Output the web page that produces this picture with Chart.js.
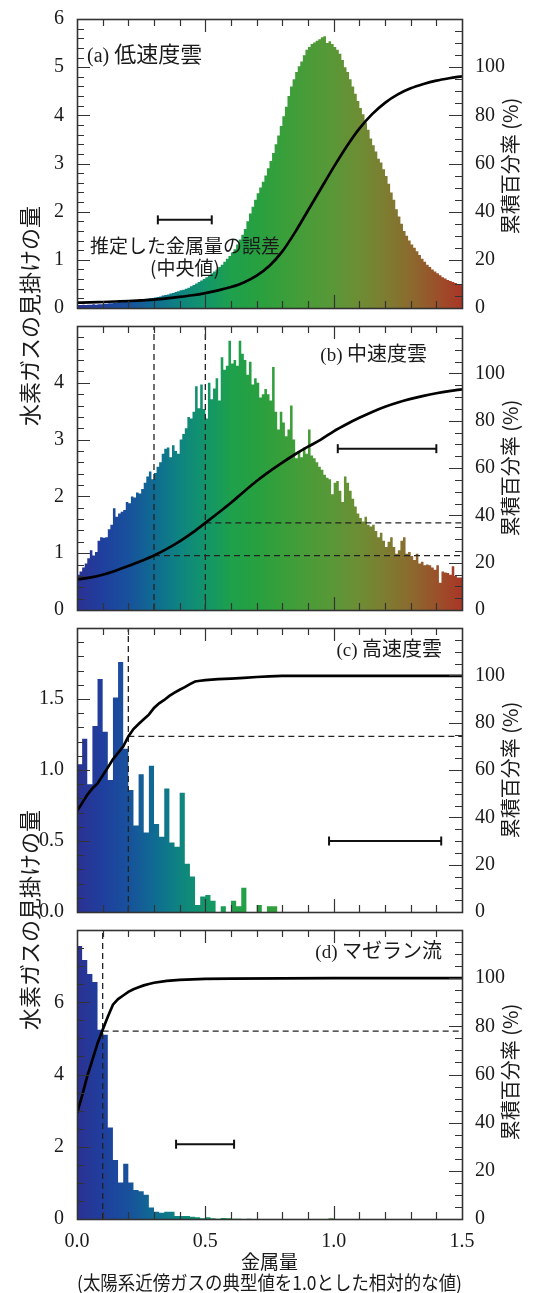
<!DOCTYPE html>
<html><head><meta charset="utf-8">
<script src="https://cdn.jsdelivr.net/npm/chart.js@4.4.1/dist/chart.umd.min.js"></script>
<style>
html,body{margin:0;padding:0;background:#fff;}
body{width:547px;height:1293px;position:relative;overflow:hidden;font-family:'Noto Sans CJK JP','Noto Sans',sans-serif;color:#1a1a1a;}
canvas{position:absolute;left:0;}
.lbl{position:absolute;white-space:nowrap;font-size:20px;line-height:24px;}
.big{font-size:22px;}
.ser{font-family:'Liberation Serif','DejaVu Serif',serif;font-size:19px;}
.note{position:absolute;left:0;width:370px;text-align:center;font-size:19px;line-height:22px;white-space:nowrap;}
.vt{position:absolute;white-space:nowrap;transform:translate(-50%,-50%) rotate(-90deg);}
.vl{font-size:22px;line-height:26px;}
.vr{font-size:20px;line-height:24px;}
</style></head>
<body>
<canvas id="ca" width="547" height="325" style="top:0px"></canvas>
<canvas id="cb" width="547" height="318" style="top:309px"></canvas>
<canvas id="cc" width="547" height="318" style="top:611px"></canvas>
<canvas id="cd" width="547" height="380" style="top:913px"></canvas>

<div class="lbl big" style="left:87px;top:40px"><span class="ser" style="font-size:20px">(a)</span> 低速度雲</div>
<div class="lbl" style="right:120px;top:341px"><span class="ser">(b)</span> 中速度雲</div>
<div class="lbl" style="right:105px;top:636px"><span class="ser">(c)</span> 高速度雲</div>
<div class="lbl" style="right:105px;top:938px"><span class="ser">(d)</span> マゼラン流</div>
<div class="note" style="top:234px">推定した金属量の誤差<br>(中央値)</div>

<div class="vt vl" style="left:28px;top:316px">水素ガスの見掛けの量</div>
<div class="vt vl" style="left:28px;top:920px">水素ガスの見掛けの量</div>
<div class="vt vr" style="left:510px;top:166px">累積百分率 (%)</div>
<div class="vt vr" style="left:510px;top:468px">累積百分率 (%)</div>
<div class="vt vr" style="left:510px;top:770px">累積百分率 (%)</div>
<div class="vt vr" style="left:510px;top:1072px">累積百分率 (%)</div>

<script>
// ---------------- DATA ----------------
const X_MIN = 0, X_MAX = 1.5;
const X_TICKS = [0.0, 0.5, 1.0, 1.5];

// (a) low-velocity clouds, bin width 0.01
const BIN_A = 0.01;
const HIST_A = [
0.05,0.06,0.06,0.07,0.06,0.07,0.07,0.08,0.07,0.08,
0.08,0.09,0.09,0.10,0.10,0.11,0.11,0.12,0.12,0.13,
0.14,0.15,0.15,0.16,0.16,0.17,0.18,0.18,0.19,0.20,
0.21,0.22,0.23,0.24,0.26,0.27,0.28,0.30,0.31,0.33,
0.35,0.37,0.38,0.40,0.42,0.45,0.48,0.51,0.54,0.57,
0.60,0.64,0.68,0.72,0.76,0.80,0.85,0.90,0.96,1.02,
1.08,1.15,1.22,1.32,1.42,1.52,1.64,1.80,1.96,2.10,
2.25,2.38,2.50,2.62,2.75,2.90,3.05,3.22,3.40,3.58,
3.78,3.98,4.18,4.40,4.60,4.75,4.90,5.02,5.12,5.25,
5.36,5.42,5.48,5.51,5.55,5.58,5.62,5.64,5.50,5.54,
5.48,5.42,5.36,5.28,5.15,5.00,4.90,4.75,4.60,4.45,
4.30,4.15,4.02,3.85,3.70,3.52,3.38,3.25,3.10,3.02,
2.88,2.74,2.58,2.40,2.25,2.05,1.90,1.75,1.60,1.50,
1.40,1.32,1.25,1.18,1.10,1.02,0.96,0.90,0.85,0.80,
0.76,0.72,0.68,0.64,0.61,0.58,0.56,0.54,0.52,0.48];
const CUM_X_AB = [0,0.05,0.1,0.15,0.2,0.25,0.3,0.35,0.4,0.45,0.5,0.55,0.6,0.65,0.7,0.75,0.8,0.85,0.9,0.95,1.0,1.05,1.1,1.15,1.2,1.25,1.3,1.35,1.4,1.45,1.5];
const CUM_A = [2.2,2.3,2.5,2.7,2.9,3.2,3.5,4.0,4.6,5.3,6.2,7.3,8.7,10.6,13.4,17.5,23.5,31.5,40.5,49.5,58.5,67.0,74.5,80.5,85.2,88.7,91.2,93.0,94.4,95.4,96.2];
const ERR_A = [0.315, 0.525, 1.83];

// (b) intermediate-velocity clouds, bin width 0.01
const BIN_B = 0.01;
const HIST_B = [
0.60,0.62,0.68,0.75,0.82,0.91,1.05,0.96,1.02,1.22,
1.28,1.27,1.28,1.42,1.50,1.79,1.64,1.70,1.73,1.76,
1.90,1.88,2.00,1.98,2.07,2.05,2.13,2.24,2.35,2.44,
2.30,2.41,2.52,2.60,2.75,2.84,2.86,2.69,2.90,2.80,
2.75,3.00,3.10,3.20,3.40,3.37,3.49,3.94,3.55,3.97,
3.54,3.37,4.00,3.71,3.90,4.08,3.69,4.45,4.23,4.30,
4.74,4.34,4.40,4.30,4.74,4.51,4.40,4.14,4.37,3.97,
4.08,4.00,3.74,3.80,3.89,3.80,3.69,4.28,3.49,3.18,
3.49,3.30,3.06,3.18,3.60,3.00,2.67,2.80,2.69,2.86,
2.75,3.18,2.72,2.67,2.60,2.52,2.47,2.38,2.33,2.30,
2.04,2.24,2.27,2.10,1.90,2.35,2.24,2.10,1.96,1.82,
1.70,1.62,1.56,1.64,1.50,1.47,1.50,1.39,1.28,1.36,
1.22,1.11,1.20,1.28,1.11,0.99,1.05,1.22,1.28,0.99,
1.02,0.95,0.88,0.99,0.82,0.85,0.79,0.80,0.79,0.75,
0.71,0.79,0.48,0.68,0.66,0.65,0.62,0.77,0.60,0.57];
const CUM_B = [12.9,13.7,14.9,16.6,18.6,20.7,23.0,25.8,29.0,32.7,36.8,41.0,45.3,50.0,54.5,58.6,62.3,65.8,69.0,72.0,75.5,78.5,81.2,83.7,85.9,87.7,89.2,90.5,91.6,92.5,93.2];
const ERR_B = [1.016, 1.40, 2.84];
const DASH_B_X = [0.3, 0.5];
const DASH_B_Y = [23.0, 36.8];

// (c) high-velocity clouds, bin width 0.02
const BIN_C = 0.02;
const HIST_C = [
0.90,1.04,1.22,0.90,1.31,1.64,1.27,0.93,1.51,1.76,
1.15,0.86,0.61,0.97,0.56,1.03,0.62,0.53,0.87,0.49,
0.46,0.84,0.34,0.25,0.05,0.11,0.12,0.08,0,0.04,
0,0.08,0.04,0.17,0,0,0.05,0,0.04,0.04,
0,0,0,0,0,0,0,0,0,0,
0,0,0,0,0,0,0,0,0,0,
0,0,0,0,0,0,0,0,0,0,
0,0,0,0,0];
const CUM_C_X = [0,0.02,0.04,0.06,0.08,0.1,0.12,0.14,0.16,0.18,0.2,0.22,0.24,0.26,0.28,0.3,0.32,0.34,0.36,0.38,0.4,0.42,0.44,0.46,0.48,0.5,0.55,0.6,0.65,0.7,0.75,0.8,1.0,1.5];
const CUM_C = [42.7,46.0,49.5,52.2,54.3,57.7,61.0,64.5,67.2,69.9,74.2,77.3,79.4,81.4,83.4,86.2,88.2,89.6,91.3,92.7,93.9,95.0,96.3,97.4,97.7,98.0,98.4,98.6,98.9,99.3,99.6,99.8,99.8,99.8];
const ERR_C = [0.982, 1.419, 0.50];
const DASH_C_X = [0.2];
const DASH_C_Y = [74.2];

// (d) Magellanic Stream, bin width 0.02
const BIN_D = 0.02;
const HIST_D = [
6.00,7.56,7.17,6.78,6.56,5.24,5.10,2.53,1.63,1.01,
1.53,1.01,0.80,0.77,0.67,0.32,0.20,0.17,0.20,0.20,
0.08,0.08,0.08,0.06,0.05,0.02,0.05,0.02,0.01,0.03,
0.02,0.01,0.01,0,0.01,0,0,0,0,0,
0,0,0,0,0,0,0,0,0,0,
0.02,0,0,0,0,0,0,0,0,0,
0,0,0,0,0,0,0,0,0,0,
0,0,0,0,0];
const CUM_D_X = [0,0.02,0.04,0.06,0.08,0.1,0.12,0.14,0.16,0.18,0.2,0.22,0.24,0.26,0.28,0.3,0.35,0.4,0.5,0.6,0.8,1.0,1.5];
const CUM_D = [44.0,51.2,59.3,66.1,72.9,78.6,84.0,89.0,91.3,92.8,94.3,95.4,96.2,97.0,97.6,98.1,98.9,99.3,99.7,99.85,99.95,100,100];
const ERR_D = [0.386, 0.612, 2.07];
const DASH_D_X = [0.1];
const DASH_D_Y = [78.0];

// ---------------- STYLE ----------------
const SERIF = "'Liberation Serif','DejaVu Serif',serif";
const CJK = "'Noto Sans CJK JP','Noto Sans',sans-serif";
const TXT = '#1a1a1a';
const GRAD_STOPS = [
 [0.00,'#2b3192'],[0.10,'#1f3f9e'],[0.20,'#18519c'],[0.30,'#0f6b92'],
 [0.40,'#0e8480'],[0.50,'#12956a'],[0.60,'#1ea04c'],[0.70,'#27a040'],
 [0.80,'#389f3a'],[0.90,'#4a9c38'],[1.00,'#5a9737'],[1.10,'#6d8d34'],
 [1.20,'#7d7d31'],[1.30,'#8b6a2e'],[1.40,'#9a512a'],[1.50,'#aa3626']];

function histPoints(vals, w){
  const pts = vals.map((v,i)=>({x:+(i*w).toFixed(4), y:v}));
  pts.push({x:+(vals.length*w).toFixed(4), y:vals[vals.length-1]});
  return pts;
}
function pairs(xs, ys){ return xs.map((x,i)=>({x:x, y:ys[i]})); }
function grad(ctx){
  const ch = ctx.chart;
  if(!ch.chartArea) return '#27a040';
  const xs = ch.scales.x;
  const x0 = xs.getPixelForValue(X_MIN), x1 = xs.getPixelForValue(X_MAX);
  const g = ch.ctx.createLinearGradient(x0,0,x1,0);
  GRAD_STOPS.forEach(s=>g.addColorStop((s[0]-X_MIN)/(X_MAX-X_MIN), s[1]));
  return g;
}

const frameTicks = {
  id:'frameTicks',
  afterDatasetsDraw(chart, args, o){
    const {ctx, chartArea:a, scales} = chart;
    const MAJ = 13, MIN = 7;
    ctx.save();
    ctx.strokeStyle = '#333';
    ctx.lineWidth = 1.2;
    ctx.beginPath();
    const isMajor = (v, step) => Math.abs(v/step - Math.round(v/step)) < 1e-6;
    const xs = scales.x;
    const nx = Math.round((xs.max - xs.min)/o.xMinor);
    for(let k=1;k<nx;k++){
      const v = xs.min + k*o.xMinor;
      const px = Math.round(xs.getPixelForValue(v)) + 0.5;
      const L = isMajor(v, o.xMajor) ? MAJ : MIN;
      ctx.moveTo(px, a.bottom); ctx.lineTo(px, a.bottom - L);
      ctx.moveTo(px, a.top); ctx.lineTo(px, a.top + L);
    }
    const yl = scales.y;
    const nl = Math.round((yl.max - yl.min)/o.yMinor);
    for(let k=1;k<nl;k++){
      const v = yl.min + k*o.yMinor;
      const py = Math.round(yl.getPixelForValue(v)) + 0.5;
      const L = isMajor(v, o.yMajor) ? MAJ : MIN;
      ctx.moveTo(a.left, py); ctx.lineTo(a.left + L, py);
    }
    const yr = scales.y2;
    const nr = Math.round((yr.max - yr.min)/o.y2Minor);
    for(let k=1;k<nr;k++){
      const v = yr.min + k*o.y2Minor;
      const py = Math.round(yr.getPixelForValue(v)) + 0.5;
      const L = isMajor(v, o.y2Major) ? MAJ : MIN;
      ctx.moveTo(a.right, py); ctx.lineTo(a.right - L, py);
    }
    ctx.stroke();
    ctx.lineWidth = 1.6;
    ctx.strokeRect(Math.round(a.left)+0.5, Math.round(a.top)+0.5, Math.round(a.right-a.left), Math.round(a.bottom-a.top));
    ctx.restore();
  }
};

const PANELS = [
 {id:'ca', hist:HIST_A, bin:BIN_A, cx:CUM_X_AB, cy:CUM_A, smooth:true, yMax:6, yStep:1, yMinor:0.2, dec:0, hideTop:false, err:ERR_A, dx:[], dy:[], showX:false, padTop:19, padBottom:13},
 {id:'cb', hist:HIST_B, bin:BIN_B, cx:CUM_X_AB, cy:CUM_B, smooth:true, yMax:5, yStep:1, yMinor:0.2, dec:0, hideTop:true, err:ERR_B, dx:DASH_B_X, dy:DASH_B_Y, showX:false, padTop:12, padBottom:12},
 {id:'cc', hist:HIST_C, bin:BIN_C, cx:CUM_C_X, cy:CUM_C, smooth:false, yMax:2, yStep:0.5, yMinor:0.1, dec:1, hideTop:true, err:ERR_C, dx:DASH_C_X, dy:DASH_C_Y, showX:false, padTop:12, padBottom:12},
 {id:'cd', hist:HIST_D, bin:BIN_D, cx:CUM_D_X, cy:CUM_D, smooth:false, yMax:8, yStep:2, yMinor:0.5, dec:0, hideTop:true, err:ERR_D, dx:DASH_D_X, dy:DASH_D_Y, showX:true, padTop:12, padBottom:0}
];

const Y2_MAX = 120;
const TICK_FONT = {family:SERIF, size:20};

PANELS.forEach(p=>{
  const ds = [];
  ds.push({type:'line', data:histPoints(p.hist,p.bin), stepped:'after', fill:'origin',
    backgroundColor:grad, borderWidth:0, borderColor:'rgba(0,0,0,0)', pointRadius:0, yAxisID:'y', order:10});
  p.dx.forEach((x,i)=>{
    ds.push({type:'line', data:[{x:x,y:0},{x:x,y:Y2_MAX}], yAxisID:'y2', borderColor:'#222',
      borderWidth:1.3, borderDash:[6,4], pointRadius:0, order:5});
    ds.push({type:'line', data:[{x:x,y:p.dy[i]},{x:X_MAX,y:p.dy[i]}], yAxisID:'y2', borderColor:'#222',
      borderWidth:1.3, borderDash:[6,4], pointRadius:0, order:5});
  });
  ds.push({type:'line', data:pairs(p.cx,p.cy), yAxisID:'y2', borderColor:'#000', borderWidth:2.7,
    pointRadius:0, cubicInterpolationMode: p.smooth ? 'monotone' : 'default', tension:0, order:2});
  ds.push({type:'line', data:[{x:p.err[0],y:p.err[2]},{x:p.err[1],y:p.err[2]}], yAxisID:'y',
    borderColor:'#111', borderWidth:2, pointStyle:'line', pointRotation:90, pointRadius:4.5,
    pointBorderWidth:2, pointBorderColor:'#111', pointBackgroundColor:'#111', order:1});

  new Chart(document.getElementById(p.id), {
    type:'line',
    data:{datasets:ds},
    plugins:[frameTicks],
    options:{
      responsive:false, animation:false, events:[],
      layout:{padding:{top:p.padTop, bottom:p.padBottom, left:0, right:0}},
      plugins:{legend:{display:false}, tooltip:{enabled:false},
        frameTicks:{xMinor:0.1, xMajor:0.5, yMinor:p.yMinor, yMajor:p.yStep, y2Minor:5, y2Major:20}},
      scales:{
        x:{type:'linear', min:X_MIN, max:X_MAX, grid:{display:false}, border:{display:false},
          afterBuildTicks:(s)=>{ s.ticks = X_TICKS.map(v=>({value:v})); },
          ticks:{display:p.showX, autoSkip:false, maxRotation:0, padding:3, font:TICK_FONT, color:TXT,
            callback:(v)=>Number(v).toFixed(1)},
          title: p.showX ? {display:true, text:['金属量','(太陽系近傍ガスの典型値を1.0とした相対的な値)'],
            font:{family:CJK, size:19, lineHeight:1.1}, color:TXT, padding:{top:0,bottom:0}} : {display:false},
          afterFit:(s)=>{ s.height = p.showX ? 74 : 0; }},
        y:{type:'linear', position:'left', min:0, max:p.yMax, grid:{display:false}, border:{display:false},
          ticks:{stepSize:p.yStep, autoSkip:false, padding:5, font:TICK_FONT, color:TXT,
            callback:(v)=> (p.hideTop && Math.abs(v-p.yMax)<1e-9) ? '' : Number(v).toFixed(p.dec)},
          afterFit:(s)=>{ s.width = 77; }},
        y2:{type:'linear', position:'right', min:0, max:Y2_MAX, grid:{display:false}, border:{display:false},
          ticks:{stepSize:20, autoSkip:false, padding:5, font:TICK_FONT, color:TXT,
            callback:(v)=> Math.abs(v-Y2_MAX)<1e-9 ? '' : String(v)},
          afterFit:(s)=>{ s.width = 85; }}
      }
    }
  });
});
</script>
</body></html>
